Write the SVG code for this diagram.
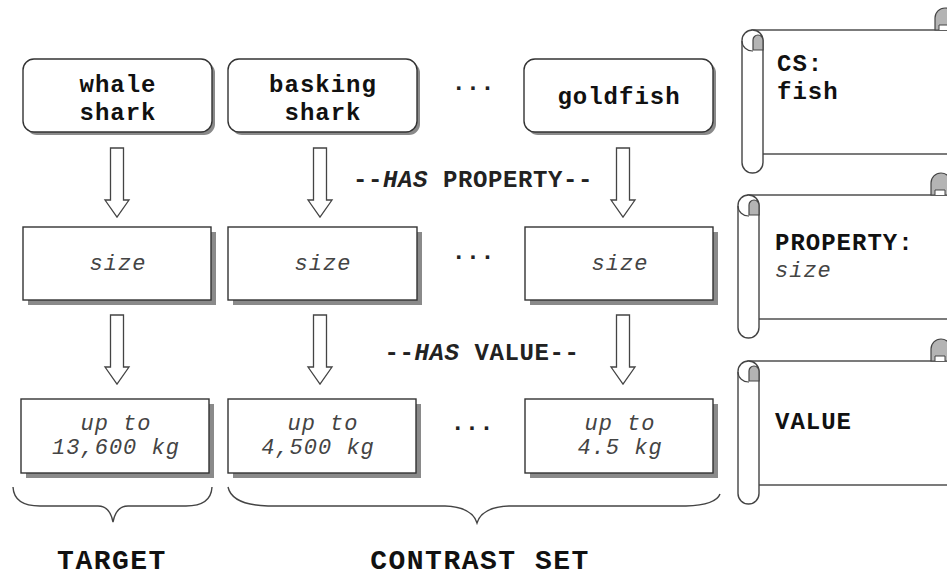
<svg xmlns="http://www.w3.org/2000/svg" xmlns:xlink="http://www.w3.org/1999/xlink" width="947" height="576" viewBox="0 0 947 576">
<style>
.box{fill:#fff;stroke:#333;stroke-width:1.4}
.sh{fill:#8a8a8a}
.lbl{font-family:"Liberation Mono","Courier New",monospace;font-weight:bold;font-size:24px;letter-spacing:1px;fill:#111;text-anchor:middle}
.it{font-family:"Liberation Mono","Courier New",monospace;font-style:italic;font-size:22px;letter-spacing:1px;fill:#444;text-anchor:middle}
.dots{font-family:"Liberation Mono","Courier New",monospace;font-weight:bold;font-size:24px;fill:#222;text-anchor:middle}
.rel{font-family:"Liberation Mono","Courier New",monospace;font-weight:bold;font-size:24px;letter-spacing:0.6px;fill:#222;text-anchor:middle}
.big{font-family:"Liberation Mono","Courier New",monospace;font-weight:bold;font-size:28px;letter-spacing:1.5px;fill:#111;text-anchor:middle}
.arr{fill:#fff;stroke:#444;stroke-width:1.3}
.brace{fill:none;stroke:#444;stroke-width:1.4}
.scr{fill:#fff;stroke:#444;stroke-width:1.4}
.curl{fill:#b4b4b4;stroke:#444;stroke-width:1.2}
.sl{font-family:"Liberation Mono","Courier New",monospace;font-weight:bold;font-size:24px;letter-spacing:1px;fill:#111}
.si{font-family:"Liberation Mono","Courier New",monospace;font-style:italic;font-size:22px;letter-spacing:1px;fill:#444}
</style>
<defs>
<path id="arr" class="arr" d="M-6.5,0 H6.5 V52 H12 L0,69 L-12,52 H-6.5 Z"/>
<g id="scroll">
<rect x="10" y="0" width="230" height="124" class="scr"/>
<path d="M193,0 V-12 A10,10 0 0 1 213,-12 V0 Z" class="curl"/>
<path d="M197,0 V-5 H207 V0" fill="#fff" stroke="#444" stroke-width="1"/>
<rect x="0" y="0" width="21" height="143" rx="10.5" class="scr"/>
<path d="M11,20 V10 A5,5 0 0 1 21,10 V20 Z" class="curl"/>
<path d="M0,11 A10.5,10 0 0 0 11,21" fill="none" stroke="#444" stroke-width="1.2"/>
</g>
</defs>

<g id="connectors">
<use href="#arr" x="117" y="148"/>
<use href="#arr" x="320" y="148"/>
<use href="#arr" x="623" y="148"/>
<use href="#arr" x="117" y="315"/>
<use href="#arr" x="320" y="315"/>
<use href="#arr" x="623" y="315"/>
</g>

<g id="label-has-property"><text class="rel" x="473" y="187">--<tspan font-style="italic">HAS</tspan> PROPERTY--</text></g>
<g id="label-has-value"><text class="rel" x="482" y="360">--<tspan font-style="italic">HAS</tspan> VALUE--</text></g>

<g id="whale-shark">
<rect x="26" y="62" width="189" height="73" rx="11" class="sh"/>
<rect x="23" y="59" width="189" height="73" rx="11" class="box"/>
<text class="lbl" x="118" y="92">whale</text>
<text class="lbl" x="118" y="120">shark</text>
</g>
<g id="basking-shark">
<rect x="231" y="62" width="189" height="73" rx="11" class="sh"/>
<rect x="228" y="59" width="189" height="73" rx="11" class="box"/>
<text class="lbl" x="323" y="92">basking</text>
<text class="lbl" x="323" y="120">shark</text>
</g>
<g id="dots-top"><text class="dots" x="473" y="90">...</text></g>
<g id="goldfish">
<rect x="527" y="62" width="189" height="73" rx="11" class="sh"/>
<rect x="524" y="59" width="189" height="73" rx="11" class="box"/>
<text class="lbl" x="619" y="104">goldfish</text>
</g>

<g id="size-1">
<rect x="28" y="232" width="188" height="73" class="sh"/>
<rect x="23" y="227" width="188" height="73" class="box"/>
<text class="it" x="118" y="270">size</text>
</g>
<g id="size-2">
<rect x="233" y="232" width="189" height="73" class="sh"/>
<rect x="228" y="227" width="189" height="73" class="box"/>
<text class="it" x="323" y="270">size</text>
</g>
<g id="dots-mid"><text class="dots" x="473" y="259">...</text></g>
<g id="size-3">
<rect x="530" y="232" width="188" height="73" class="sh"/>
<rect x="525" y="227" width="188" height="73" class="box"/>
<text class="it" x="620" y="270">size</text>
</g>

<g id="value-1">
<rect x="26" y="404" width="188" height="74" class="sh"/>
<rect x="21" y="399" width="188" height="74" class="box"/>
<text class="it" x="116" y="430">up to</text>
<text class="it" x="116" y="454">13,600 kg</text>
</g>
<g id="value-2">
<rect x="233" y="404" width="188" height="74" class="sh"/>
<rect x="228" y="399" width="188" height="74" class="box"/>
<text class="it" x="323" y="430">up to</text>
<text class="it" x="318" y="454">4,500 kg</text>
</g>
<g id="dots-bot"><text class="dots" x="472" y="430">...</text></g>
<g id="value-3">
<rect x="530" y="404" width="188" height="74" class="sh"/>
<rect x="525" y="399" width="188" height="74" class="box"/>
<text class="it" x="620" y="430">up to</text>
<text class="it" x="620" y="454">4.5 kg</text>
</g>

<g id="brace-target">
<path class="brace" d="M13,487 Q14,506 40,506 L98,506 Q110,506 113,522 Q116,506 128,506 L186,506 Q211,506 212,487"/>
<text class="big" x="112" y="569">TARGET</text>
</g>
<g id="brace-contrast">
<path class="brace" d="M228,487 Q232,505 268,506 L445,506 Q472,507 477,523 Q482,507 509,506 L686,506 Q716,505 720,494"/>
<text class="big" x="480" y="569">CONTRAST SET</text>
</g>

<g id="scroll-cs">
<use href="#scroll" x="742" y="30"/>
<text class="sl" x="777" y="71">CS:</text>
<text class="sl" x="777" y="99">fish</text>
</g>
<g id="scroll-property">
<use href="#scroll" x="738" y="195"/>
<text class="sl" x="775" y="250">PROPERTY:</text>
<text class="si" x="775" y="277">size</text>
</g>
<g id="scroll-value">
<use href="#scroll" x="738" y="361"/>
<text class="sl" x="775" y="429">VALUE</text>
</g>
</svg>
